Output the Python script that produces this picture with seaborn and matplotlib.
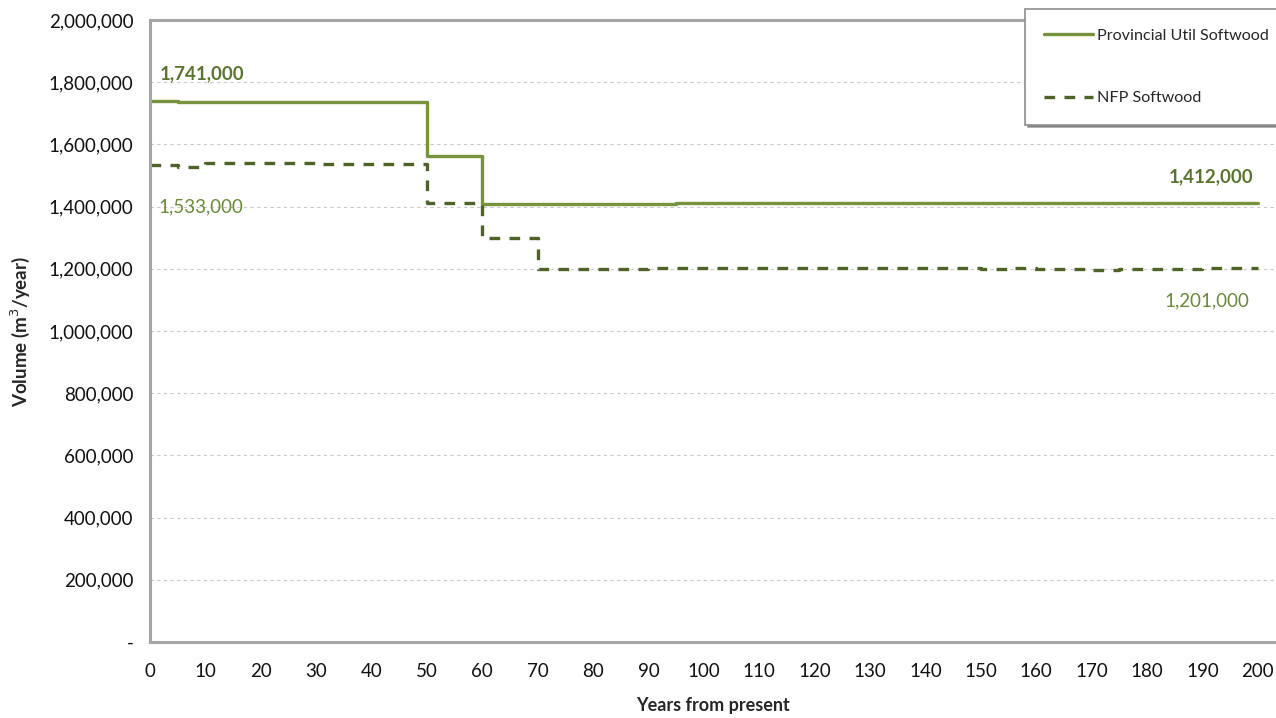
import numpy as np
import pandas as pd
import matplotlib
matplotlib.use("Agg")
import matplotlib.pyplot as plt
import seaborn as sns
from matplotlib.ticker import FuncFormatter, MultipleLocator

# Harvest volume projections (step values start at each listed year)
util_years = [0, 5, 50, 60, 95, 200]
util_volume = [1741000, 1737000, 1563000, 1408000, 1412000, 1412000]

nfp_years = [0, 5, 10, 30, 50, 60, 70, 90, 150, 155, 160, 170, 175, 190, 200]
nfp_volume = [1533000, 1527000, 1540000, 1536000, 1412000, 1298000, 1199000,
              1203000, 1200000, 1204000, 1199000, 1196000, 1199000, 1201000, 1201000]

series_names = ["Provincial Util Softwood", "NFP Softwood"]
x_ticks = list(range(0, 201, 10))

UTIL_COLOR = "#77933C"
NFP_COLOR = "#4F6228"
LABEL_BOLD = "#5B7530"
LABEL_LIGHT = "#6A8A3A"

sns.set_theme(style="white")
plt.rcParams["font.family"] = ["Lato", "DejaVu Sans"]

fig = plt.figure(figsize=(12.76, 7.18), dpi=100)
ax = fig.add_axes([150 / 1276, 1 - 642 / 718, 1 - 150 / 1276, (642 - 20) / 718])

util_df = pd.DataFrame({"year": util_years, "volume": util_volume})
nfp_df = pd.DataFrame({"year": nfp_years, "volume": nfp_volume})

sns.lineplot(data=util_df, x="year", y="volume", ax=ax, color=UTIL_COLOR,
             linewidth=2.4, drawstyle="steps-post", label=series_names[0])
sns.lineplot(data=nfp_df, x="year", y="volume", ax=ax, color=NFP_COLOR,
             linewidth=2.4, drawstyle="steps-post", dashes=False,
             linestyle=(0, (3.2, 2.8)), label=series_names[1])

ax.set_xlim(0, 203.3)
ax.set_ylim(0, 2000000)
ax.set_xticks(x_ticks)
ax.yaxis.set_major_locator(MultipleLocator(200000))
ax.yaxis.set_major_formatter(FuncFormatter(lambda v, p: "-" if v == 0 else f"{int(v):,}"))

ax.grid(axis="y", color="#C8C8C8", linestyle=(0, (3, 3)), linewidth=0.8)
ax.grid(axis="x", visible=False)
ax.set_axisbelow(True)

for side in ["left", "bottom", "top"]:
    ax.spines[side].set_visible(True)
    ax.spines[side].set_color("#A6A6A6")
    ax.spines[side].set_linewidth(2.2)
ax.spines["right"].set_visible(False)

ax.tick_params(axis="both", which="major", direction="out", length=5, width=1,
               color="#A6A6A6", labelsize=13.5, labelcolor="#111111", pad=7)
ax.tick_params(axis="x", pad=10)

ax.set_xlabel("Years from present", fontsize=13, fontweight="bold", labelpad=12)
ax.set_ylabel("Volume (m$^3$/year)", fontsize=13.5, fontweight="bold", labelpad=12)

# Value labels at the start and end of each series
ax.annotate(f"{util_volume[0]:,}", xy=(util_years[0], util_volume[0]),
            xytext=(7, 13), textcoords="offset points", ha="left", va="bottom",
            fontsize=13.5, fontweight="bold", color=LABEL_BOLD)
ax.annotate(f"{nfp_volume[0]:,}", xy=(nfp_years[0], nfp_volume[0]),
            xytext=(6, -24), textcoords="offset points", ha="left", va="top",
            fontsize=13.5, color=LABEL_LIGHT)
ax.annotate(f"{util_volume[-1]:,}", xy=(util_years[-1], util_volume[-1]),
            xytext=(-3, 13), textcoords="offset points", ha="right", va="bottom",
            fontsize=13.5, fontweight="bold", color=LABEL_BOLD)
ax.annotate(f"{nfp_volume[-1]:,}", xy=(nfp_years[-1], nfp_volume[-1]),
            xytext=(-6, -17), textcoords="offset points", ha="right", va="top",
            fontsize=13.5, color=LABEL_LIGHT)

ax.get_legend().remove()
handles, labels = ax.get_legend_handles_labels()
leg = fig.legend(handles, labels, loc="upper left",
                 bbox_to_anchor=(1025 / 1276, 1 - 9 / 718),
                 frameon=True, shadow=True, fancybox=False, fontsize=11.6,
                 handlelength=3.0, handletextpad=0.25, labelspacing=3.0,
                 borderpad=1.2, borderaxespad=0)
leg.get_frame().set_edgecolor("#8C8C8C")
leg.get_frame().set_linewidth(1.2)

fig.savefig("out.png", dpi=100)
